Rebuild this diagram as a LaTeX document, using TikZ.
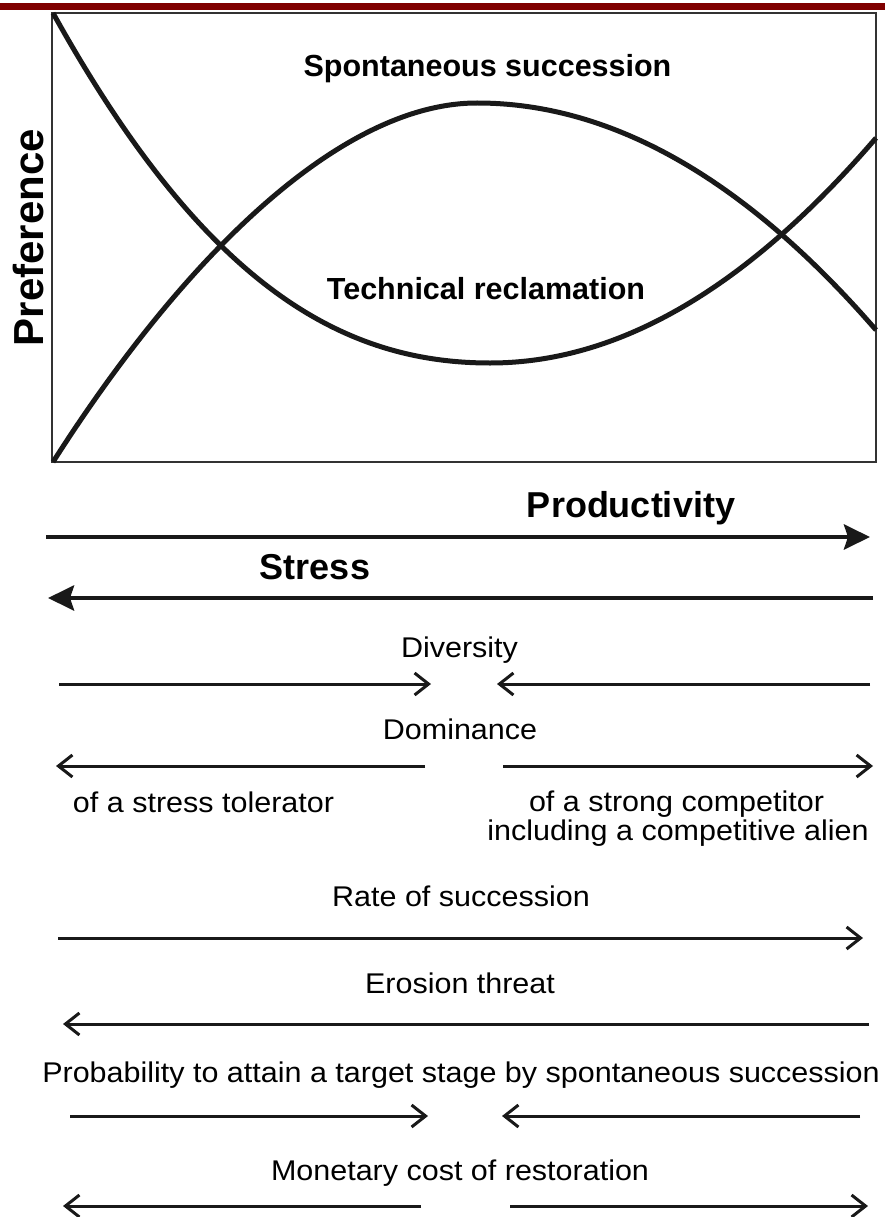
\documentclass[tikz,border=0pt]{standalone}
\usepackage{fontspec}
\setmainfont{Liberation Sans}
\newfontfamily\regfont{Liberation Sans}[FakeStretch=1.07]
\usetikzlibrary{arrows.meta}
\definecolor{barred}{HTML}{7F0000}
\definecolor{framegray}{HTML}{333333}
\tikzset{
  lbl/.style={inner sep=0pt, anchor=base, font=\regfont\fontsize{28.5}{34}\selectfont},
  blbl/.style={inner sep=0pt, anchor=base, font=\fontsize{30.5}{36}\selectfont\bfseries},
  biglbl/.style={inner sep=0pt, anchor=base, font=\fontsize{36}{42}\selectfont\bfseries},
  ylbl/.style={inner sep=0pt, anchor=base, rotate=90, font=\fontsize{42}{48}\selectfont\bfseries},
  curveline/.style={line width=5pt, black!90},
  boldarrow/.style={line width=4.5pt, black!90, -{Stealth[length=26pt,width=25pt,inset=4pt]}},
  thinarrow/.style={line width=3pt, black!90, -{Straight Barb[length=14pt,width=22pt]}},
}
\begin{document}
\begin{tikzpicture}[x=1pt,y=-1pt]
\useasboundingbox (0,0) rectangle (885,1217);
\fill[barred] (0,3) rectangle (885,10);
% plot frame
\draw[line width=1.5pt, framegray] (52,13) rectangle (876,462);
% technical reclamation curve
\draw[curveline] (53,13) .. controls (203,283) and (340,363) .. (490,363)
                         .. controls (619,363) and (747,288) .. (876,138);
% spontaneous succession curve
\draw[curveline] (53,462) .. controls (183,258) and (340,103) .. (477,103)
                          .. controls (612,103) and (745,179) .. (876,330);
% plot labels
\node[blbl] (spont) at (487.5,77) {Spontaneous succession};
\node[blbl] (techn) at (486,299) {Technical reclamation};
\node[ylbl] (pref) at (43,237.5) {Preference};
% productivity / stress
\node[biglbl] (prod) at (631,517) {Productivity};
\coordinate (prodA) at (46,537); \coordinate (prodB) at (870,537);
\draw[boldarrow] (prodA) -- (prodB);
\node[biglbl] (stress) at (315,579) {Stress};
\coordinate (strA) at (873,598); \coordinate (strB) at (48,598);
\draw[boldarrow] (strA) -- (strB);
% diversity
\node[lbl] (div) at (459.5,657) {Diversity};
\coordinate (divLA) at (59,684); \coordinate (divLB) at (431,684);
\coordinate (divRA) at (870,684); \coordinate (divRB) at (497,684);
\draw[thinarrow] (divLA) -- (divLB);
\draw[thinarrow] (divRA) -- (divRB);
% dominance
\node[lbl] (dom) at (460,739) {Dominance};
\coordinate (domLA) at (425,766); \coordinate (domLB) at (56,766);
\coordinate (domRA) at (503,766); \coordinate (domRB) at (873,766);
\draw[thinarrow] (domLA) -- (domLB);
\draw[thinarrow] (domRA) -- (domRB);
\node[lbl] (tol) at (203.5,812) {of a stress tolerator};
\node[lbl] (comp1) at (676.5,811) {of a strong competitor};
\node[lbl] (comp2) at (678,840) {including a competitive alien};
% rate of succession
\node[lbl] (rate) at (461,906) {Rate of succession};
\coordinate (rateA) at (58,938); \coordinate (rateB) at (863,938);
\draw[thinarrow] (rateA) -- (rateB);
% erosion
\node[lbl] (eros) at (460,993) {Erosion threat};
\coordinate (erA) at (869,1024); \coordinate (erB) at (63,1024);
\draw[thinarrow] (erA) -- (erB);
% probability
\node[lbl] (prob) at (461,1082) {Probability to attain a target stage by spontaneous succession};
\coordinate (prLA) at (70,1116); \coordinate (prLB) at (428,1116);
\coordinate (prRA) at (860,1116); \coordinate (prRB) at (502,1116);
\draw[thinarrow] (prLA) -- (prLB);
\draw[thinarrow] (prRA) -- (prRB);
% monetary cost
\node[lbl] (mon) at (460,1180) {Monetary cost of restoration};
\coordinate (moLA) at (421,1206); \coordinate (moLB) at (63,1206);
\coordinate (moRA) at (510,1206); \coordinate (moRB) at (868,1206);
\draw[thinarrow] (moLA) -- (moLB);
\draw[thinarrow] (moRA) -- (moRB);
\end{tikzpicture}
\end{document}
